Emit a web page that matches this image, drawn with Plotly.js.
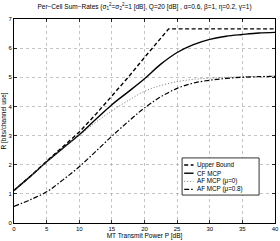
<!DOCTYPE html>
<html><head><meta charset="utf-8">
<script src="https://cdn.plot.ly/plotly-3.0.1.min.js"></script>
<style>html,body{margin:0;padding:0;background:#fff}#c{width:280px;height:241px}</style>
</head><body><div id="c"></div>
<script>
// Data
const xUpper = [0, 2.5, 5, 7.5, 10, 12.5, 15, 17.5, 20, 22, 23.7, 25, 30, 35, 40];
const upperBound = [1.12, 1.6, 2.12, 2.62, 3.12, 3.72, 4.35, 5.0, 5.68, 6.2, 6.66, 6.66, 6.66, 6.66, 6.66];

const xCurve = [0, 2.5, 5, 7.5, 10, 12.5, 15, 17.5, 20, 22.5, 25, 27.5, 30, 32.5, 35, 37.5, 40];
const cfMcp = [1.12, 1.6, 2.1, 2.57, 3.03, 3.55, 4.06, 4.5, 4.95, 5.45, 5.85, 6.12, 6.3, 6.41, 6.47, 6.52, 6.54];
const afMcpMu0 = [1.12, 1.6, 2.1, 2.57, 3.0, 3.45, 3.85, 4.2, 4.52, 4.72, 4.85, 4.93, 4.97, 5.0, 5.02, 5.03, 5.04];
const afMcpMu08 = [0.57, 0.8, 1.07, 1.48, 1.93, 2.45, 2.98, 3.48, 3.95, 4.33, 4.62, 4.8, 4.9, 4.96, 5.0, 5.02, 5.03];

const seriesNames = ['Upper Bound', 'CF MCP', 'AF MCP (\u03bc=0)', 'AF MCP (\u03bc=0.8)'];
const xTicks = [0, 5, 10, 15, 20, 25, 30, 35, 40];
const yTicks = [0, 1, 2, 3, 4, 5, 6, 7];

const F = 'Liberation Sans, Arial, Helvetica, sans-serif';
const styles = [
  {color: '#000', width: 1.4, dash: '4px,2.5px'},
  {color: '#000', width: 1.4, dash: 'solid'},
  {color: '#666', width: 0.9, dash: '1px,2px'},
  {color: '#000', width: 1.2, dash: '5px,2px,1.5px,2px'}
];
const xs = [xUpper, xCurve, xCurve, xCurve];
const ys = [upperBound, cfMcp, afMcpMu0, afMcpMu08];
const traces = ys.map((y, i) => ({
  x: xs[i], y: y, name: seriesNames[i], mode: 'lines', showlegend: false,
  line: Object.assign({}, styles[i], i > 0 ? {shape: 'spline'} : {})
}));

// Hand-built legend (MATLAB-style compact rows)
const legX0 = 0.644, legX1 = 0.939, legY0 = 0.137, legY1 = 0.319;
const rowY = [0.284, 0.244, 0.204, 0.165];
const shapes = [{type: 'rect', xref: 'paper', yref: 'paper', x0: legX0, x1: legX1, y0: legY0, y1: legY1,
  line: {color: '#000', width: 0.8}, fillcolor: '#fff', layer: 'above'}];
const annotations = [];
seriesNames.forEach((n, i) => {
  shapes.push({type: 'line', xref: 'paper', yref: 'paper', x0: 0.652, x1: 0.688, y0: rowY[i], y1: rowY[i],
    line: {color: styles[i].color, width: styles[i].width, dash: styles[i].dash}, layer: 'above'});
  annotations.push({xref: 'paper', yref: 'paper', x: 0.695, y: rowY[i], xanchor: 'left', yanchor: 'middle',
    text: n, showarrow: false, font: {size: 6.3, family: F, color: '#000'}});
});

const axisCommon = {
  showline: true, linecolor: '#000', linewidth: 1, mirror: 'allticks', automargin: false,
  ticks: 'inside', ticklen: 3, tickcolor: '#000', tickwidth: 0.8,
  showgrid: true, gridcolor: '#aaa', griddash: 'dot', gridwidth: 0.7,
  zeroline: false, tickfont: {size: 6, family: F, color: '#000'}
};
const layout = {
  width: 280, height: 241,
  margin: {l: 14, r: 5, t: 19, b: 18},
  paper_bgcolor: '#fff', plot_bgcolor: '#fff',
  font: {family: F, color: '#000', size: 6.5},
  title: {text: 'Per\u2212Cell Sum\u2212Rates (\u03c3<sub>1</sub><sup>2</sup>=\u03c3<sub>2</sub><sup>2</sup>=1 [dB], Q=20 [dB] , \u03b1=0.6, \u03b2=1, \u03b7=0.2, \u03b3=1)',
    font: {size: 6.5, family: F, color: '#000'}, x: 0.5, xref: 'paper', y: 0.972, yref: 'container', yanchor: 'middle', automargin: false},
  xaxis: Object.assign({}, axisCommon, {range: [0, 40], tickvals: xTicks, ticktext: xTicks.map(String),
    title: {text: 'MT Transmit Power P [dB]', font: {size: 6.5, family: F}, standoff: 0}}),
  yaxis: Object.assign({}, axisCommon, {range: [0, 7], tickvals: yTicks, ticktext: yTicks.map(String),
    title: {text: 'R [bits/channel use]', font: {size: 6.5, family: F}, standoff: 1}}),
  showlegend: false,
  shapes: shapes,
  annotations: annotations
};
Plotly.newPlot('c', traces, layout, {staticPlot: true, displayModeBar: false});
</script></body></html>
